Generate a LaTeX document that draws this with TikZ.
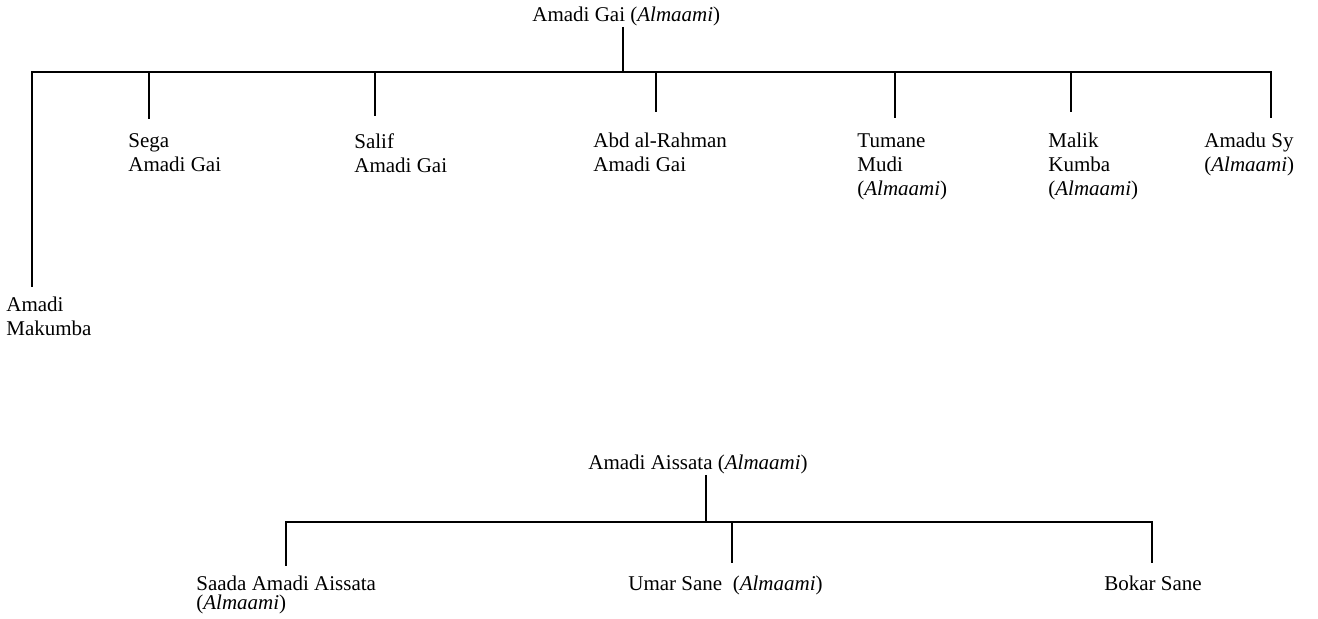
\documentclass[tikz,border=0pt]{standalone}
\usepackage{fontspec}
\setmainfont{Liberation Serif}

\begin{document}
\begin{tikzpicture}[x=0.5pt, y=-0.5pt,
  person/.style={inner sep=0pt, font=\fontsize{10.5pt}{12pt}\selectfont, align=left, anchor=north west},
  link/.style={line width=1pt}
]
  \useasboundingbox (0,0) rectangle (1318,619);

  % first line: Amadi Gai and his sons
  \node[person] (gai) at (532,7) {Amadi Gai (\textit{Almaami})};
  \node[person] (mak) at (6,297) {Amadi\\Makumba};
  \node[person] (sega) at (128,133) {Sega\\Amadi Gai};
  \node[person] (salif) at (354,133) {Salif\\Amadi Gai};
  \node[person] (abd) at (593,133) {Abd al-Rahman\\Amadi Gai};
  \node[person] (tum) at (857,133) {Tumane\\Mudi\\(\textit{Almaami})};
  \node[person] (mal) at (1048,133) {Malik\\Kumba\\(\textit{Almaami})};
  \node[person] (sy) at (1204,133) {Amadu Sy\\(\textit{Almaami})};

  \coordinate (gai-t) at (623,72);
  \coordinate (mak-t) at (32,287);
  \coordinate (sega-t) at (149,119);
  \coordinate (salif-t) at (375,116);
  \coordinate (abd-t) at (656,112);
  \coordinate (tum-t) at (895,118);
  \coordinate (mal-t) at (1071,112);
  \coordinate (sy-t) at (1271,118);

  \draw[link] (gai.south -| gai-t) -- (gai-t);
  \draw[link] (mak-t) |- (sy-t |- gai-t) -- (sy-t);
  \foreach \k in {sega,salif,abd,tum,mal}
    \draw[link] (\k-t) -- (\k-t |- gai-t);

  % second line: Amadi Aissata
  \node[person] (aissata) at (588,455) {Amadi Aissata (\textit{Almaami})};
  \node[person] (saada) at (196,576) {Saada Amadi Aissata\\[-2.5pt](\textit{Almaami})};
  \node[person] (umar) at (628,576) {Umar Sane\enspace(\textit{Almaami})};
  \node[person] (bokar) at (1104,576) {Bokar Sane};

  \coordinate (aissata-t) at (706,522);
  \coordinate (saada-t) at (286,566);
  \coordinate (umar-t) at (732,563);
  \coordinate (bokar-t) at (1152,563);

  \draw[link] (aissata.south -| aissata-t) -- (aissata-t);
  \draw[link] (saada-t) |- (bokar-t |- aissata-t) -- (bokar-t);
  \draw[link] (umar-t) -- (umar-t |- aissata-t);
\end{tikzpicture}
\end{document}
